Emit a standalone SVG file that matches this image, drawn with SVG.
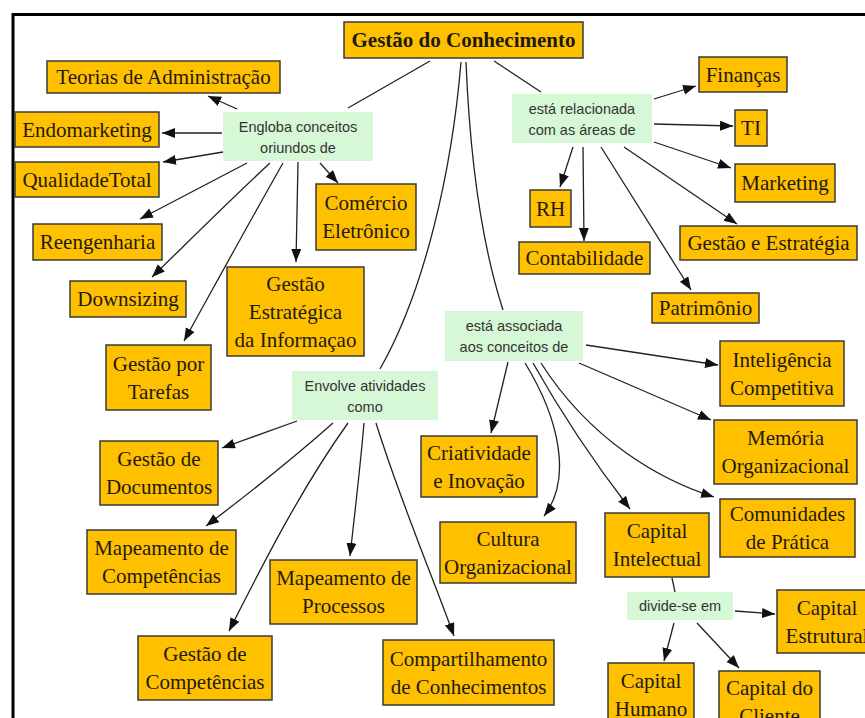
<svg xmlns="http://www.w3.org/2000/svg" width="865" height="718" viewBox="0 0 865 718">
<style>
.n rect{fill:#ffc000;stroke:#3a3a3a;stroke-width:1.5}
.n text{font-family:"Liberation Serif","Times New Roman",serif;font-size:21px;fill:#1e1a10;text-anchor:middle}
.r text{font-weight:bold}
.l rect{fill:#d6f8d6;stroke:none}
.l text{font-family:"Liberation Sans",Arial,sans-serif;font-size:14.5px;fill:#333;text-anchor:middle}
.c path{fill:none;stroke:#222;stroke-width:1.3}
.c .a{marker-end:url(#ah)}
</style>
<defs>
<marker id="ah" markerUnits="userSpaceOnUse" markerWidth="14" markerHeight="11" refX="13" refY="5" orient="auto">
<path d="M0,0 L13,5 L0,10 z" fill="#111"/>
</marker>
</defs>
<rect width="865" height="718" fill="#fff"/>
<path d="M13,718 V14.5 H865" fill="none" stroke="#000" stroke-width="3"/>

<g id="connectors" class="c">
<path d="M430,61 L348,108"/>
<path d="M494,61 L541,92"/>
<path d="M461,62 C452,170 425,290 380,369"/>
<path d="M466,62 C470,160 482,245 503,310"/>
<path d="M672,578 L675,592"/>
<path class="a" d="M237,109 L208,96"/>
<path class="a" d="M222,133 L162,133"/>
<path class="a" d="M223,152 L163,162"/>
<path class="a" d="M247,163 L140,219"/>
<path class="a" d="M270,163 C230,200 185,245 152,277"/>
<path class="a" d="M283,163 C245,230 215,285 184,341"/>
<path class="a" d="M298,162 L296,262"/>
<path class="a" d="M320,163 L338,183"/>
<path class="a" d="M654,99 L696,86"/>
<path class="a" d="M654,124 L733,126"/>
<path class="a" d="M654,142 L731,168"/>
<path class="a" d="M624,147 L737,224"/>
<path class="a" d="M601,147 L691,290"/>
<path class="a" d="M583,147 L584,241"/>
<path class="a" d="M573,147 L560,187"/>
<path class="a" d="M297,421 L222,448"/>
<path class="a" d="M333,423 C280,470 240,500 206,526"/>
<path class="a" d="M348,423 C300,490 260,570 229,631"/>
<path class="a" d="M364,423 C360,470 354,520 350,556"/>
<path class="a" d="M376,423 C400,500 430,570 454,636"/>
<path class="a" d="M508,362 L491,433"/>
<path class="a" d="M525,363 C560,420 572,480 544,516"/>
<path class="a" d="M533,363 C565,420 600,470 630,509"/>
<path class="a" d="M541,363 C590,440 660,480 714,497"/>
<path class="a" d="M579,363 L711,420"/>
<path class="a" d="M586,345 L718,365"/>
<path class="a" d="M735,611 L775,614"/>
<path class="a" d="M674,623 L664,661"/>
<path class="a" d="M697,623 L739,668"/>
</g>

<g id="gestao-conhecimento" class="n r"><rect x="344" y="22" width="239" height="36"/><text x="463.5" y="47">Gestão do Conhecimento</text></g>
<g id="teorias" class="n"><rect x="47" y="61" width="233" height="32"/><text x="163.5" y="84">Teorias de Administração</text></g>
<g id="endomarketing" class="n"><rect x="15" y="112" width="144" height="35"/><text x="87" y="136.5">Endomarketing</text></g>
<g id="qualidade" class="n"><rect x="15" y="162" width="144" height="35"/><text x="87" y="186.5">QualidadeTotal</text></g>
<g id="reengenharia" class="n"><rect x="33" y="224" width="129" height="36"/><text x="97.5" y="249">Reengenharia</text></g>
<g id="downsizing" class="n"><rect x="70" y="281" width="116" height="36"/><text x="128" y="306">Downsizing</text></g>
<g id="tarefas" class="n"><rect x="106" y="345" width="105" height="65"/><text x="158.5" y="370.5">Gestão por</text><text x="158.5" y="398.5">Tarefas</text></g>
<g id="gestao-estrategica-info" class="n"><rect x="227" y="267" width="137" height="89"/><text x="295.5" y="290.5">Gestão</text><text x="295.5" y="318.5">Estratégica</text><text x="295.5" y="346.5">da Informaçao</text></g>
<g id="comercio" class="n"><rect x="316" y="184" width="100" height="66"/><text x="366" y="210">Comércio</text><text x="366" y="238">Eletrônico</text></g>
<g id="documentos" class="n"><rect x="100" y="441" width="118" height="64"/><text x="159" y="466">Gestão de</text><text x="159" y="494">Documentos</text></g>
<g id="map-competencias" class="n"><rect x="87" y="530" width="149" height="64"/><text x="161.5" y="555">Mapeamento de</text><text x="161.5" y="583">Competências</text></g>
<g id="gest-competencias" class="n"><rect x="138" y="636" width="134" height="64"/><text x="205" y="661">Gestão de</text><text x="205" y="689">Competências</text></g>
<g id="map-processos" class="n"><rect x="270" y="560" width="147" height="64"/><text x="343.5" y="585">Mapeamento de</text><text x="343.5" y="613">Processos</text></g>
<g id="compartilhamento" class="n"><rect x="383" y="640" width="171" height="65"/><text x="468.5" y="665.5">Compartilhamento</text><text x="468.5" y="693.5">de Conhecimentos</text></g>
<g id="cultura" class="n"><rect x="440" y="522" width="136" height="61"/><text x="508" y="545.5">Cultura</text><text x="508" y="573.5">Organizacional</text></g>
<g id="criatividade" class="n"><rect x="421" y="436" width="116" height="61"/><text x="479" y="459.5">Criatividade</text><text x="479" y="487.5">e Inovação</text></g>
<g id="financas" class="n"><rect x="699" y="57" width="88" height="35"/><text x="743" y="81.5">Finanças</text></g>
<g id="ti" class="n"><rect x="735" y="110" width="32" height="36"/><text x="751" y="135">TI</text></g>
<g id="marketing" class="n"><rect x="735" y="164" width="100" height="38"/><text x="785" y="190">Marketing</text></g>
<g id="gestao-estrategia" class="n"><rect x="680" y="226" width="177" height="34"/><text x="768.5" y="250">Gestão e Estratégia</text></g>
<g id="rh" class="n"><rect x="530" y="190" width="41" height="37"/><text x="550.5" y="215.5">RH</text></g>
<g id="contabilidade" class="n"><rect x="519" y="242" width="131" height="32"/><text x="584.5" y="265">Contabilidade</text></g>
<g id="patrimonio" class="n"><rect x="652" y="293" width="107" height="30"/><text x="705.5" y="315">Patrimônio</text></g>
<g id="inteligencia" class="n"><rect x="720" y="341" width="124" height="65"/><text x="782" y="366.5">Inteligência</text><text x="782" y="394.5">Competitiva</text></g>
<g id="memoria" class="n"><rect x="714" y="420" width="143" height="64"/><text x="785.5" y="445">Memória</text><text x="785.5" y="473">Organizacional</text></g>
<g id="comunidades" class="n"><rect x="720" y="499" width="135" height="58"/><text x="787.5" y="521">Comunidades</text><text x="787.5" y="549">de Prática</text></g>
<g id="capital-intelectual" class="n"><rect x="605" y="513" width="104" height="64"/><text x="657" y="538">Capital</text><text x="657" y="566">Intelectual</text></g>
<g id="capital-estrutural" class="n"><rect x="777" y="590" width="100" height="63"/><text x="827" y="614.5">Capital</text><text x="827" y="642.5">Estrutural</text></g>
<g id="capital-humano" class="n"><rect x="608" y="663" width="86" height="64"/><text x="651" y="688">Capital</text><text x="651" y="716">Humano</text></g>
<g id="capital-cliente" class="n"><rect x="719" y="671" width="101" height="64"/><text x="769.5" y="695">Capital do</text><text x="769.5" y="723">Cliente</text></g>

<g id="lbl-engloba" class="l"><rect x="223" y="112" width="150" height="49"/><text x="298" y="131.5">Engloba conceitos</text><text x="298" y="152.5">oriundos de</text></g>
<g id="lbl-relacionada" class="l"><rect x="512" y="94" width="140" height="49"/><text x="582" y="113.5">está relacionada</text><text x="582" y="134.5">com as áreas de</text></g>
<g id="lbl-envolve" class="l"><rect x="292" y="371" width="146" height="49"/><text x="365" y="390.5">Envolve atividades</text><text x="365" y="411.5">como</text></g>
<g id="lbl-associada" class="l"><rect x="445" y="311" width="138" height="50"/><text x="514" y="331">está associada</text><text x="514" y="352">aos conceitos de</text></g>
<g id="lbl-divide" class="l"><rect x="627" y="592" width="106" height="28"/><text x="680" y="611">divide-se em</text></g>
</svg>
